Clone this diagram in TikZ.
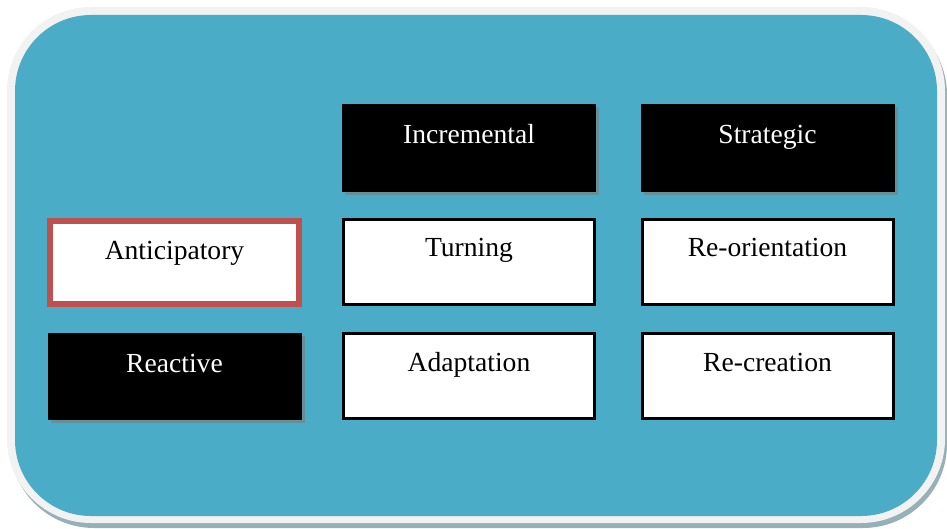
\documentclass[tikz,border=0pt]{standalone}
\usepackage{fontspec}
\setmainfont{Liberation Serif}
\usetikzlibrary{shadows}
\definecolor{tealbg}{HTML}{4AACC6}
\definecolor{ringgray}{HTML}{F2F2F2}
\definecolor{outshadow}{HTML}{95B0B6}
\definecolor{boxshadow}{HTML}{64909A}
\definecolor{redborder}{HTML}{C0504D}
\tikzset{
  basebox/.style={rectangle, anchor=north, inner sep=0pt, align=center,
    font=\fontsize{27.6}{33}\selectfont, text depth=0pt},
  darkbox/.style={basebox, fill=black, text=white, minimum width=254pt, minimum height=88pt,
    text height=39pt, text depth=49pt,
    drop shadow={shadow xshift=3pt, shadow yshift=-3pt, fill=boxshadow, opacity=1}},
  lightbox/.style={basebox, fill=white, draw=black, line width=3pt, text=black,
    minimum width=251pt, minimum height=85pt, text height=37.5pt, text depth=47.5pt},
  redbox/.style={basebox, fill=white, draw=redborder, line width=6pt, text=black,
    minimum width=249pt, minimum height=83pt, text height=39pt, text depth=44pt}
}
\begin{document}
\begin{tikzpicture}[x=1pt,y=-1pt]
\useasboundingbox (0,0) rectangle (947,529);
\fill[outshadow, rounded corners=84pt] (10,11) rectangle (947,528);
\fill[ringgray, rounded corners=84pt] (7,7) rectangle (945,523);
\fill[tealbg, rounded corners=76pt] (15,15) rectangle (937,516);

\node[darkbox] (inc) at (469,104) {Incremental};
\node[darkbox] (str) at (767.5,104) {Strategic};
\node[redbox] (ant) at (174.5,218) {Anticipatory};
\node[lightbox] (tur) at (469,218) {Turning};
\node[lightbox] (reo) at (767.5,218) {Re-orientation};
\node[darkbox, minimum height=87pt, text depth=48pt] (rea) at (174.5,333) {Reactive};
\node[lightbox] (ada) at (469,332) {Adaptation};
\node[lightbox] (rec) at (767.5,332) {Re-creation};
\end{tikzpicture}
\end{document}
